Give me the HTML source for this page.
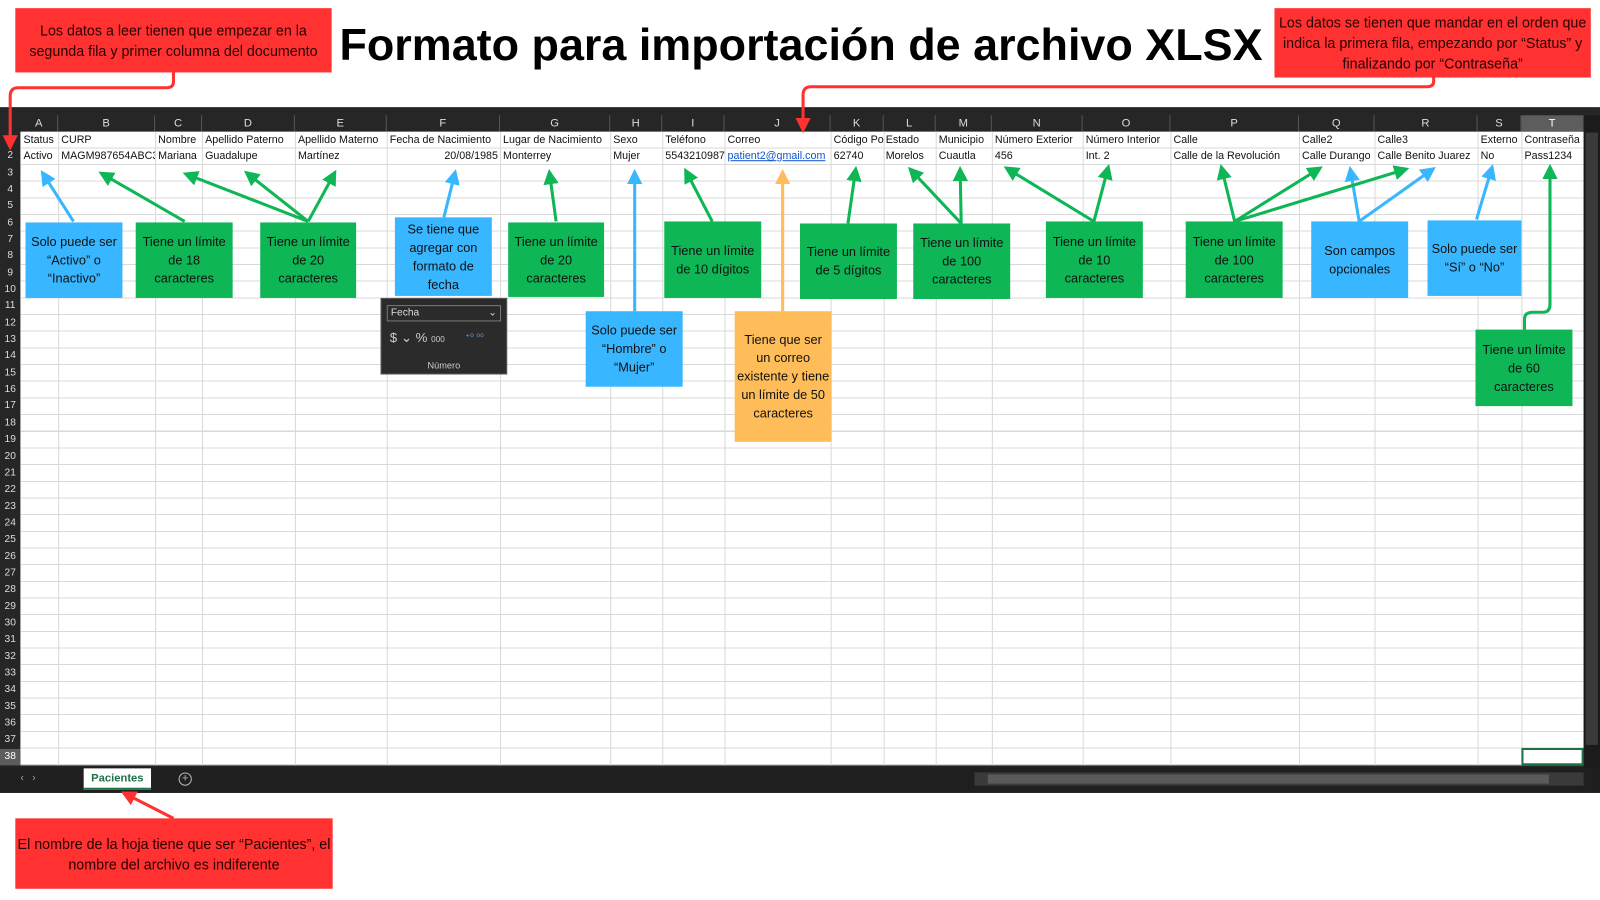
<!DOCTYPE html>
<html><head><meta charset="utf-8"><style>
*{margin:0;padding:0;box-sizing:border-box}
body{width:1600px;height:900px;background:#fff;position:relative;overflow:hidden;font-family:"Liberation Sans",sans-serif}
#wrap{position:absolute;left:0;top:0;width:1568px;height:882px;transform:scale(1.0204);transform-origin:0 0}
.abs{position:absolute}
#sheet{left:0;top:105px;width:1568px;height:672px;background:#262626}
#grid{left:20px;top:129px;width:1532px;height:621px;background:#fff;
background-image:repeating-linear-gradient(to bottom,transparent 0,transparent 15.34px,#d9d9d9 15.34px,#d9d9d9 16.34px)}
.vl{position:absolute;top:129px;height:621px;width:1px;background:#d9d9d9}
.ch{position:absolute;top:113px;height:16px;color:#ddd;font-size:11px;text-align:center;line-height:16px;border-right:1px solid #555}
.rh{position:absolute;left:0;width:20px;height:16.34px;color:#ddd;font-size:10px;text-align:center;line-height:16px}
.c{position:absolute;font-size:10.5px;color:#111;line-height:16px;white-space:nowrap;overflow:hidden}
.box{position:absolute;display:flex;align-items:center;justify-content:center;text-align:center;font-size:12.5px;line-height:18px;color:#111;padding:2px}
.g{background:#0fb656}.b{background:#38b6ff}.o{background:#ffbd59}.r{background:#ff3131;color:#2a0000;font-size:14px;line-height:20px}
</style></head><body><div id="wrap">
<div class="abs" id="sheet"></div>
<div class="abs" id="grid"></div>
<div class="vl" style="left:57px"></div><div class="vl" style="left:152px"></div><div class="vl" style="left:198px"></div><div class="vl" style="left:289px"></div><div class="vl" style="left:379px"></div><div class="vl" style="left:490px"></div><div class="vl" style="left:598px"></div><div class="vl" style="left:649px"></div><div class="vl" style="left:710px"></div><div class="vl" style="left:814px"></div><div class="vl" style="left:866px"></div><div class="vl" style="left:917px"></div><div class="vl" style="left:972px"></div><div class="vl" style="left:1061px"></div><div class="vl" style="left:1147px"></div><div class="vl" style="left:1273px"></div><div class="vl" style="left:1347px"></div><div class="vl" style="left:1448px"></div><div class="vl" style="left:1491px"></div>
<div class="ch" style="left:20px;width:37px">A</div><div class="ch" style="left:57px;width:95px">B</div><div class="ch" style="left:152px;width:46px">C</div><div class="ch" style="left:198px;width:91px">D</div><div class="ch" style="left:289px;width:90px">E</div><div class="ch" style="left:379px;width:111px">F</div><div class="ch" style="left:490px;width:108px">G</div><div class="ch" style="left:598px;width:51px">H</div><div class="ch" style="left:649px;width:61px">I</div><div class="ch" style="left:710px;width:104px">J</div><div class="ch" style="left:814px;width:52px">K</div><div class="ch" style="left:866px;width:51px">L</div><div class="ch" style="left:917px;width:55px">M</div><div class="ch" style="left:972px;width:89px">N</div><div class="ch" style="left:1061px;width:86px">O</div><div class="ch" style="left:1147px;width:126px">P</div><div class="ch" style="left:1273px;width:74px">Q</div><div class="ch" style="left:1347px;width:101px">R</div><div class="ch" style="left:1448px;width:43px">S</div><div class="ch" style="left:1491px;width:61px;background:#5d5d5d;color:#fff">T</div>
<div class="rh" style="top:129px">1</div><div class="rh" style="top:145.3px">2</div><div class="rh" style="top:161.7px">3</div><div class="rh" style="top:178px">4</div><div class="rh" style="top:194.4px">5</div><div class="rh" style="top:210.7px">6</div><div class="rh" style="top:227px">7</div><div class="rh" style="top:243.4px">8</div><div class="rh" style="top:259.7px">9</div><div class="rh" style="top:276px">10</div><div class="rh" style="top:292.4px">11</div><div class="rh" style="top:308.7px">12</div><div class="rh" style="top:325.1px">13</div><div class="rh" style="top:341.4px">14</div><div class="rh" style="top:357.8px">15</div><div class="rh" style="top:374.1px">16</div><div class="rh" style="top:390.4px">17</div><div class="rh" style="top:406.8px">18</div><div class="rh" style="top:423.1px">19</div><div class="rh" style="top:439.5px">20</div><div class="rh" style="top:455.8px">21</div><div class="rh" style="top:472.1px">22</div><div class="rh" style="top:488.5px">23</div><div class="rh" style="top:504.8px">24</div><div class="rh" style="top:521.2px">25</div><div class="rh" style="top:537.5px">26</div><div class="rh" style="top:553.8px">27</div><div class="rh" style="top:570.2px">28</div><div class="rh" style="top:586.5px">29</div><div class="rh" style="top:602.9px">30</div><div class="rh" style="top:619.2px">31</div><div class="rh" style="top:635.5px">32</div><div class="rh" style="top:651.9px">33</div><div class="rh" style="top:668.2px">34</div><div class="rh" style="top:684.6px">35</div><div class="rh" style="top:700.9px">36</div><div class="rh" style="top:717.2px">37</div><div class="rh" style="top:733.6px;background:#5d5d5d;color:#fff">38</div>
<div class="c" style="top:129px;left:23px">Status</div><div class="c" style="top:129px;left:60px">CURP</div><div class="c" style="top:129px;left:155px">Nombre</div><div class="c" style="top:129px;left:201px">Apellido Paterno</div><div class="c" style="top:129px;left:292px">Apellido Materno</div><div class="c" style="top:129px;left:382px">Fecha de Nacimiento</div><div class="c" style="top:129px;left:493px">Lugar de Nacimiento</div><div class="c" style="top:129px;left:601px">Sexo</div><div class="c" style="top:129px;left:652px">Teléfono</div><div class="c" style="top:129px;left:713px">Correo</div><div class="c" style="top:129px;left:817px;width:49px">Código Postal</div><div class="c" style="top:129px;left:868px">Estado</div><div class="c" style="top:129px;left:920px">Municipio</div><div class="c" style="top:129px;left:975px">Número Exterior</div><div class="c" style="top:129px;left:1064px">Número Interior</div><div class="c" style="top:129px;left:1150px">Calle</div><div class="c" style="top:129px;left:1276px">Calle2</div><div class="c" style="top:129px;left:1350px">Calle3</div><div class="c" style="top:129px;left:1451px">Externo</div><div class="c" style="top:129px;left:1494px">Contraseña</div>
<div class="c" style="top:145px;left:23px">Activo</div><div class="c" style="top:145px;left:60px;width:92px">MAGM987654ABC3</div><div class="c" style="top:145px;left:155px">Mariana</div><div class="c" style="top:145px;left:201px">Guadalupe</div><div class="c" style="top:145px;left:292px">Martínez</div><div class="c" style="top:145px;left:382px;width:106px;text-align:right">20/08/1985</div><div class="c" style="top:145px;left:493px">Monterrey</div><div class="c" style="top:145px;left:601px">Mujer</div><div class="c" style="top:145px;left:652px">5543210987</div><div class="c" style="top:145px;left:713px;color:#1155cc;text-decoration:underline">patient2@gmail.com</div><div class="c" style="top:145px;left:817px">62740</div><div class="c" style="top:145px;left:868px">Morelos</div><div class="c" style="top:145px;left:920px">Cuautla</div><div class="c" style="top:145px;left:975px">456</div><div class="c" style="top:145px;left:1064px">Int. 2</div><div class="c" style="top:145px;left:1150px">Calle de la Revolución</div><div class="c" style="top:145px;left:1276px">Calle Durango</div><div class="c" style="top:145px;left:1350px">Calle Benito Juarez</div><div class="c" style="top:145px;left:1451px">No</div><div class="c" style="top:145px;left:1494px">Pass1234</div>
<div class="abs" style="left:1491px;top:733px;width:61px;height:17px;border:2px solid #1e7145"></div>
<div class="abs" style="left:1552px;top:113px;width:16px;height:640px;background:#1b1b1b"></div>
<div class="abs" style="left:1554px;top:130px;width:12px;height:600px;background:#3a3a3a"></div>
<div class="abs" style="left:0;top:752px;width:1568px;height:25px;background:#1f1f1f"></div>
<div class="abs" style="left:20px;top:757px;color:#aaa;font-size:10px">‹ &nbsp; ›</div>
<div class="abs" style="left:82px;top:753px;width:66px;height:21px;background:#fff;color:#1e7145;font-weight:bold;font-size:11px;text-align:center;line-height:21px;border-bottom:2px solid #1e7145">Pacientes</div>
<div class="abs" style="left:175px;top:757px;width:13px;height:13px;border:1px solid #bbb;border-radius:50%;color:#bbb;font-size:11px;line-height:11px;text-align:center">+</div>
<div class="abs" style="left:955px;top:757px;width:597px;height:13px;background:#3a3a3a"></div>
<div class="abs" style="left:968px;top:759px;width:550px;height:9px;background:#5a5a5a"></div>
<div class="abs" style="left:373px;top:292px;width:124px;height:75px;background:#2b2b2b;border:1px solid #555">
<div class="abs" style="left:5px;top:6px;width:112px;height:16px;border:1px solid #777;color:#ddd;font-size:10px;line-height:14px;padding-left:3px">Fecha<span style="float:right;padding-right:3px">⌄</span></div>
<div class="abs" style="left:8px;top:30px;color:#ccc;font-size:13px">$ ⌄ % <span style="font-size:8px">000</span></div>
<div class="abs" style="left:82px;top:32px;color:#5aa0e0;font-size:9px">⁺⁰ ⁰⁰</div>
<div class="abs" style="left:0;top:60px;width:122px;text-align:center;color:#ccc;font-size:9px">Número</div>
</div>
<div class="abs" style="left:285px;top:17px;width:1000px;text-align:center;font-size:44px;font-weight:bold;color:#000;line-height:56px;white-space:nowrap">Formato para importación de archivo XLSX</div>
<div class="box r" style="left:15px;top:8px;width:310px;height:63px">Los datos a leer tienen que empezar en la segunda fila y primer columna del documento</div>
<div class="box r" style="left:1249px;top:8px;width:310px;height:68px">Los datos se tienen que mandar en el orden que indica la primera fila, empezando por “Status” y finalizando por “Contraseña”</div>
<div class="box r" style="left:15px;top:802px;width:311px;height:69px">El nombre de la hoja tiene que ser “Pacientes”, el nombre del archivo es indiferente</div>
<div class="box b" style="left:25px;top:218px;width:95px;height:74px">Solo puede ser “Activo” o “Inactivo”</div>
<div class="box g" style="left:133px;top:218px;width:95px;height:74px">Tiene un límite de 18 caracteres</div>
<div class="box g" style="left:255px;top:218px;width:94px;height:74px">Tiene un límite de 20 caracteres</div>
<div class="box b" style="left:387px;top:213px;width:95px;height:77px">Se tiene que agregar con formato de fecha</div>
<div class="box g" style="left:498px;top:218px;width:94px;height:73px">Tiene un límite de 20 caracteres</div>
<div class="box b" style="left:574px;top:305px;width:95px;height:74px">Solo puede ser “Hombre” o “Mujer”</div>
<div class="box g" style="left:651px;top:217px;width:95px;height:75px">Tiene un límite de 10 dígitos</div>
<div class="box o" style="left:720px;top:305px;width:95px;height:128px">Tiene que ser un correo existente y tiene un límite de 50 caracteres</div>
<div class="box g" style="left:784px;top:219px;width:95px;height:74px">Tiene un límite de 5 dígitos</div>
<div class="box g" style="left:895px;top:219px;width:95px;height:74px">Tiene un límite de 100 caracteres</div>
<div class="box g" style="left:1025px;top:217px;width:95px;height:75px">Tiene un límite de 10 caracteres</div>
<div class="box g" style="left:1162px;top:217px;width:95px;height:75px">Tiene un límite de 100 caracteres</div>
<div class="box b" style="left:1285px;top:217px;width:95px;height:75px">Son campos opcionales</div>
<div class="box b" style="left:1399px;top:216px;width:92px;height:74px">Solo puede ser “Sí” o “No”</div>
<div class="box g" style="left:1446px;top:323px;width:95px;height:75px">Tiene un límite de 60 caracteres</div>
<svg class="abs" style="left:0;top:0" width="1568" height="882">
<defs>
<marker id="mg" markerWidth="5" markerHeight="5" refX="2.5" refY="2.5" orient="auto" markerUnits="strokeWidth"><path d="M0,0L5,2.5L0,5z" fill="#0fb656"/></marker>
<marker id="mb" markerWidth="5" markerHeight="5" refX="2.5" refY="2.5" orient="auto" markerUnits="strokeWidth"><path d="M0,0L5,2.5L0,5z" fill="#38b6ff"/></marker>
<marker id="mo" markerWidth="5" markerHeight="5" refX="2.5" refY="2.5" orient="auto" markerUnits="strokeWidth"><path d="M0,0L5,2.5L0,5z" fill="#ffbd59"/></marker>
<marker id="mr" markerWidth="5" markerHeight="5" refX="2.5" refY="2.5" orient="auto" markerUnits="strokeWidth"><path d="M0,0L5,2.5L0,5z" fill="#ff3131"/></marker>
</defs>
<g stroke-width="3" fill="none">
<g stroke="#38b6ff" marker-end="url(#mb)">
<line x1="72" y1="217" x2="44" y2="173"/><line x1="435" y1="213" x2="445" y2="173"/><line x1="622" y1="305" x2="622" y2="173"/>
<line x1="1332" y1="217" x2="1324" y2="170"/><line x1="1332" y1="217" x2="1401" y2="168"/><line x1="1447" y1="215" x2="1461" y2="168"/>
</g>
<g stroke="#0fb656" marker-end="url(#mg)">
<line x1="181" y1="217" x2="103" y2="172"/>
<line x1="302" y1="217" x2="186" y2="172"/><line x1="302" y1="217" x2="245" y2="172"/><line x1="302" y1="217" x2="326" y2="173"/>
<line x1="545" y1="217" x2="539" y2="173"/>
<line x1="698" y1="217" x2="674" y2="171"/>
<line x1="831" y1="219" x2="838" y2="170"/>
<line x1="942" y1="219" x2="895" y2="169"/><line x1="942" y1="219" x2="941" y2="170"/>
<line x1="1072" y1="217" x2="990" y2="167"/><line x1="1072" y1="217" x2="1085" y2="168"/>
<line x1="1210" y1="217" x2="1198" y2="168"/><line x1="1210" y1="217" x2="1290" y2="167"/><line x1="1210" y1="217" x2="1374" y2="167"/>
<path d="M1494,323 L1494,313 Q1494,306 1502,306 L1512,306 Q1519,306 1519,298 L1519,168"/>
</g>
<line stroke="#ffbd59" marker-end="url(#mo)" x1="767" y1="305" x2="767" y2="173"/>
<g stroke="#ff3131" marker-end="url(#mr)">
<path d="M170,71 L170,80 Q170,86 163,86 L18,86 Q10,86 10,94 L10,140"/>
<path d="M1405,76 L1405,80 Q1405,85 1398,85 L795,85 Q787,85 787,93 L787,123"/>
<line x1="170" y1="802" x2="125" y2="779"/>
</g>
</g>
</svg>
</div></body></html>
